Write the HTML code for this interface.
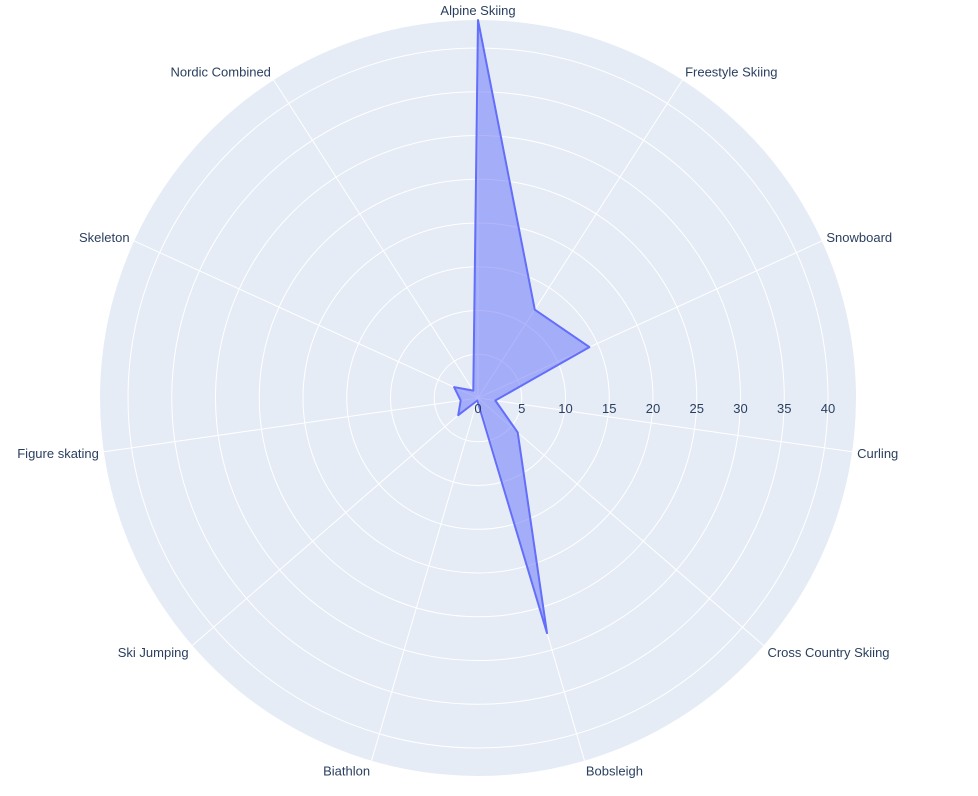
<!DOCTYPE html>
<html><head><meta charset="utf-8"><style>
html,body{margin:0;padding:0;background:#fff;}
svg{display:block;font-family:"Liberation Sans",Arial,sans-serif;}
</style></head><body>
<svg id="chart" width="978" height="796"></svg>
<script>
const categories=["Alpine Skiing","Freestyle Skiing","Snowboard","Curling","Cross Country Skiing","Bobsleigh","Biathlon","Ski Jumping","Figure skating","Skeleton","Nordic Combined"];
const values=[43.2,12,14,2,6,28,0.3,3,2,3,1];
const radialTicks=[0,5,10,15,20,25,30,35,40];
const NS="http://www.w3.org/2000/svg";
const svg=document.getElementById('chart');
const cx=478,cy=398,R=378;
const rMax=Math.max(...values);
function rScale(v){return v/rMax*R;}
function ang(i){return (90-i*360/categories.length)*Math.PI/180;}
function pt(i,v){const a=ang(i),r=rScale(v);return [cx+r*Math.cos(a),cy-r*Math.sin(a)];}
function mk(t,at){const e=document.createElementNS(NS,t);for(const k in at)e.setAttribute(k,at[k]);return e;}
const bg=mk('circle',{cx:cx,cy:cy,r:R,fill:'#e5ecf6'});


svg.appendChild(bg);
radialTicks.forEach(t=>{if(t===0)return;const c=mk('circle',{cx:cx,cy:cy,r:rScale(t),fill:'none',stroke:'#fff','stroke-width':1});


svg.appendChild(c);});
categories.forEach((c,i)=>{const a=ang(i);const l=mk('line',{x1:cx,y1:cy,x2:cx+R*Math.cos(a),y2:cy-R*Math.sin(a),stroke:'#fff','stroke-width':1});


svg.appendChild(l);});
const pts=values.map((v,i)=>pt(i,v).map(n=>n.toFixed(1)).join(',')).join(' ');
const poly=mk('polygon',{points:pts,fill:'rgba(99,110,250,0.5)',stroke:'#636efa','stroke-width':2,'stroke-linejoin':'round'});


svg.appendChild(poly);
radialTicks.forEach(t=>{const tx=mk('text',{x:cx+rScale(t),y:cy+15,'text-anchor':'middle','font-size':13,fill:'#2a3f5f'});tx.textContent=t;


svg.appendChild(tx);});
categories.forEach((c,i)=>{const a=ang(i),co=Math.cos(a),si=Math.sin(a);
const x=cx+(R+5)*co,y=cy-(R+5)*si+5-si*5;
const anchor=Math.abs(co)<0.05?'middle':(co>0?'start':'end');
const tx=mk('text',{x:x,y:y,'text-anchor':anchor,'font-size':13,fill:'#2a3f5f'});tx.textContent=c;


svg.appendChild(tx);});
</script>
</body></html>
